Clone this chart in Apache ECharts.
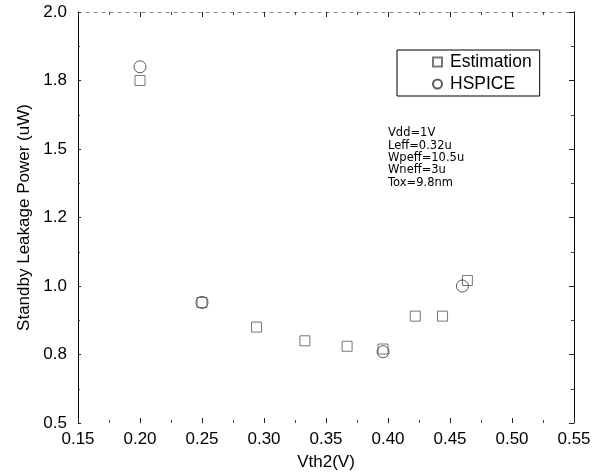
<!DOCTYPE html>
<html>
<head>
<meta charset="utf-8">
<script src="https://cdn.jsdelivr.net/npm/echarts@6/dist/echarts.min.js"></script>
<style>
  html, body { margin: 0; padding: 0; background: #fff; }
  #chart { width: 603px; height: 476px; }
</style>
</head>
<body>
<div id="chart"></div>
<script>
// Standby leakage power versus Vth2: model estimate vs. HSPICE simulation
const estVth = [0.200, 0.250, 0.294, 0.333, 0.367, 0.396, 0.422, 0.444, 0.464];
const estPower = [1.75, 0.94, 0.85, 0.80, 0.78, 0.77, 0.89, 0.89, 1.02];

const spiceVth = [0.200, 0.250, 0.396, 0.460];
const spicePower = [1.80, 0.94, 0.76, 1.00];

// y ticks sit every 0.25 uW but are printed with one decimal
const yTickLabels = ['0.5', '0.8', '1.0', '1.2', '1.5', '1.8', '2.0'];
const xTickLabels = ['0.15', '0.20', '0.25', '0.30', '0.35', '0.40', '0.45', '0.50', '0.55'];

const paramLines = ['Vdd=1V', 'Leff=0.32u', 'Wpeff=10.5u', 'Wneff=3u', 'Tox=9.8nm'];

const FONT = '"Liberation Sans", Arial, Helvetica, sans-serif';

const pairs = (xs, ys) => xs.map((x, i) => [x, ys[i]]);

const chart = echarts.init(document.getElementById('chart'), null, { renderer: 'canvas' });

const tickCommon = { show: true, inside: true, length: 5, lineStyle: { color: '#222', width: 1 } };
const minorCommon = { show: true, splitNumber: 2, length: 3, lineStyle: { color: '#444', width: 1 } };

chart.setOption({
  animation: false,
  backgroundColor: '#fff',
  grid: { left: 78, right: 29, top: 12, bottom: 52, containLabel: false },
  xAxis: [
    {
      type: 'value', position: 'bottom', min: 0.15, max: 0.55, interval: 0.05,
      name: 'Vth2(V)', nameLocation: 'middle', nameGap: 31,
      nameTextStyle: { fontFamily: FONT, fontSize: 17, color: '#000' },
      axisLine: { show: false },
      axisTick: tickCommon,
      minorTick: minorCommon,
      splitLine: { show: false },
      axisLabel: {
        fontFamily: FONT, fontSize: 17, color: '#000', margin: 8,
        formatter: v => xTickLabels[Math.round((v - 0.15) / 0.05)]
      }
    },
    {
      type: 'value', position: 'top', min: 0.15, max: 0.55, interval: 0.05,
      axisLine: { show: true, lineStyle: { color: '#888', width: 1, type: [3, 5] } },
      axisTick: tickCommon,
      minorTick: minorCommon,
      splitLine: { show: false },
      axisLabel: { show: false }
    }
  ],
  yAxis: [
    {
      type: 'value', position: 'left', min: 0.5, max: 2.0, interval: 0.25,
      name: 'Standby Leakage Power (uW)', nameLocation: 'middle', nameGap: 38,
      nameTextStyle: { fontFamily: FONT, fontSize: 17, color: '#000' },
      axisLine: { show: true, lineStyle: { color: '#000', width: 1 } },
      axisTick: Object.assign({}, tickCommon, { length: 3 }),
      minorTick: Object.assign({}, minorCommon, { length: 2 }),
      splitLine: { show: false },
      axisLabel: {
        fontFamily: FONT, fontSize: 17, color: '#000', margin: 11,
        formatter: v => yTickLabels[Math.round((v - 0.5) / 0.25)]
      }
    },
    {
      type: 'value', position: 'right', min: 0.5, max: 2.0, interval: 0.25,
      axisLine: { show: true, lineStyle: { color: '#000', width: 1 } },
      axisTick: tickCommon,
      minorTick: minorCommon,
      splitLine: { show: false },
      axisLabel: { show: false }
    }
  ],
  legend: {
    data: ['Estimation', 'HSPICE'],
    orient: 'vertical',
    left: 397, top: 50,
    padding: [3, 8, 3, 35],
    itemGap: 4,
    itemWidth: 9, itemHeight: 9,
    borderColor: '#000', borderWidth: 1,
    textStyle: { fontFamily: FONT, fontSize: 17.5, color: '#000', padding: [0, 0, 0, 3] },
    selectedMode: false
  },
  graphic: [
    {
      type: 'text', left: 388, top: 127,
      style: {
        text: paramLines.join('\n'),
        font: '11.5px "DejaVu Sans", sans-serif',
        lineHeight: 12.4,
        fill: '#000'
      }
    }
  ],
  series: [
    {
      name: 'Estimation', type: 'scatter',
      xAxisIndex: 0, yAxisIndex: 0,
      symbol: 'rect', symbolSize: 10,
      itemStyle: { color: 'rgba(255,255,255,0)', borderColor: '#555', borderWidth: 1 },
      data: pairs(estVth, estPower),
      z: 2
    },
    {
      name: 'HSPICE', type: 'scatter',
      xAxisIndex: 0, yAxisIndex: 0,
      symbol: 'circle', symbolSize: 12,
      itemStyle: { color: 'rgba(255,255,255,0)', borderColor: '#333', borderWidth: 1 },
      data: pairs(spiceVth, spicePower),
      z: 3
    }
  ]
});
</script>
</body>
</html>
